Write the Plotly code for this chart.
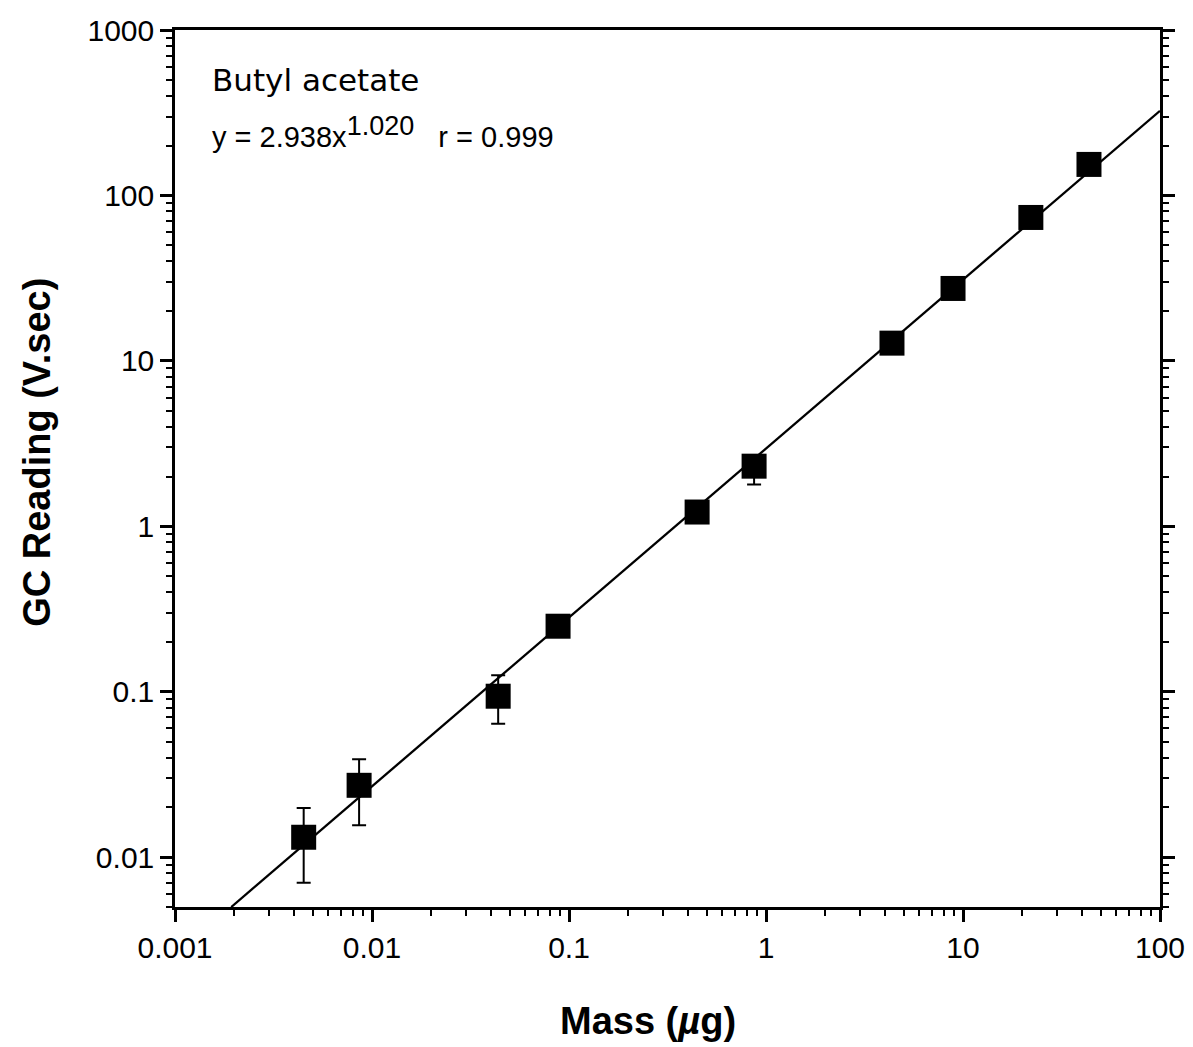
import plotly.graph_objects as go

# Data
mass = [0.0045, 0.0086, 0.0437, 0.088, 0.447, 0.87, 4.36, 8.9, 22.1, 43.6]
gc = [0.0132, 0.0272, 0.094, 0.249, 1.22, 2.31, 12.8, 27.4, 73.6, 154]
err_plus = [0.0066, 0.0119, 0.032, 0.0, 0.0, 0.0, 0.0, 0.0, 0.0, 0.0]
err_minus = [0.0062, 0.0116, 0.030, 0.0, 0.0, 0.52, 0.0, 0.0, 0.0, 0.0]

fit_x = [0.00193, 100]
fit_y = [0.005, 325]

x_tickvals = [0.001, 0.01, 0.1, 1, 10, 100]
x_ticktext = ["0.001", "0.01", "0.1", "1", "10", "100"]
y_tickvals = [0.01, 0.1, 1, 10, 100, 1000]
y_ticktext = ["0.01", "0.1", "1", "10", "100", "1000"]

fig = go.Figure()
fig.add_trace(go.Scatter(
    x=fit_x, y=fit_y, mode="lines",
    line=dict(color="black", width=2.3), showlegend=False, hoverinfo="skip"))
fig.add_trace(go.Scatter(
    x=mass, y=gc, mode="markers",
    marker=dict(symbol="square", size=25, color="black"),
    error_y=dict(type="data", symmetric=False, array=err_plus, arrayminus=err_minus,
                 color="black", thickness=2, width=7),
    showlegend=False))

axis_common = dict(
    showline=True, linecolor="black", linewidth=2.5,
    ticks="outside", ticklen=12, tickwidth=2.5, tickcolor="black",
    showgrid=False, zeroline=False, automargin=False,
    tickfont=dict(family="Liberation Sans, Arial", size=30, color="black"),
    minor=dict(ticks="outside", ticklen=6, tickwidth=2, tickcolor="black",
               dtick="D1", showgrid=False),
)

fig.update_xaxes(
    type="log", range=[-3, 2], tickmode="array",
    tickvals=x_tickvals, ticktext=x_ticktext, mirror=True,
    **axis_common)
fig.update_yaxes(
    type="log", range=[-2.301, 3], tickmode="array",
    tickvals=y_tickvals, ticktext=y_ticktext, mirror="ticks",
    **axis_common)

title_font = dict(family="Liberation Sans, Arial", size=38, color="black")
fig.add_annotation(
    xref="paper", yref="paper", x=0.480, y=-0.130, xanchor="center", yanchor="middle",
    text="<b>Mass (<i>µ</i>g)</b>", showarrow=False, font=title_font)
fig.add_annotation(
    xref="paper", yref="paper", x=-0.140, y=0.518, xanchor="center", yanchor="middle",
    text="<b>GC Reading (V.sec)</b>", showarrow=False, textangle=-90, font=title_font)

fig.add_annotation(
    xref="paper", yref="paper", x=0.036, y=0.943, xanchor="left", yanchor="middle",
    text="Butyl acetate", showarrow=False,
    font=dict(family="DejaVu Sans", size=31, color="black"))
fig.add_annotation(
    xref="paper", yref="paper", x=0.036, y=0.884, xanchor="left", yanchor="middle",
    text="y = 2.938x<sup><span style='font-size:27px'>1.020</span></sup>&nbsp;&nbsp; r = 0.999",
    showarrow=False,
    font=dict(family="Liberation Sans, Arial", size=29, color="black"))

fig.update_layout(
    width=1193, height=1047,
    margin=dict(l=167, r=41, t=22, b=148),
    plot_bgcolor="white", paper_bgcolor="white",
)

fig.write_html("out.html")
